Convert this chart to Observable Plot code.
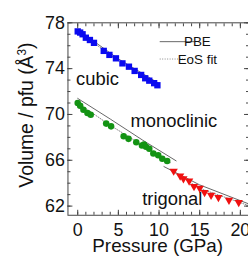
<!DOCTYPE html>
<html><head><meta charset="utf-8">
<script src="https://cdn.jsdelivr.net/npm/d3@7"></script>
<script src="https://cdn.jsdelivr.net/npm/@observablehq/plot@0.6"></script>
<style>
html,body{margin:0;padding:0;background:#fff;overflow:hidden;width:248px;height:259px}
#chart{position:relative;width:248px;height:259px;overflow:hidden}
</style></head><body><div id="chart"></div>
<script>
// Cubic phase (blue squares)
const cubicP = [0, 0.3, 0.6, 1.0, 1.5, 2.0, 3.2, 3.9, 4.7, 5.5, 6.3, 7.0, 7.8, 8.3, 8.8, 9.4, 9.8];
const cubicV = [77.25, 77.15, 77.0, 76.7, 76.5, 76.25, 75.55, 75.2, 74.9, 74.46, 74.17, 73.8, 73.45, 73.16, 72.95, 72.73, 72.55];
// Monoclinic phase (green circles)
const monoP = [0, 0.3, 0.7, 1.2, 1.6, 3.5, 4.1, 5.65, 6.25, 7.2, 7.9, 8.15, 8.4, 8.8, 9.3, 9.9, 10.4, 11.0];
const monoV = [71.0, 70.76, 70.41, 70.12, 69.98, 69.2, 68.96, 68.1, 67.87, 67.57, 67.29, 67.38, 67.18, 67.0, 66.6, 66.43, 66.14, 65.93];
// Trigonal phase (red down triangles)
const trigP = [11.8, 12.6, 13.0, 13.7, 14.3, 15.0, 15.6, 16.4, 17.3, 18.6, 19.8];
const trigV = [65.06, 64.63, 64.4, 64.19, 63.71, 63.56, 63.19, 62.95, 62.75, 62.52, 62.32];
// PBE curves
const cubicPbeP = [0, 5, 10], cubicPbeV = [77.4, 74.85, 72.7];
const monoPbeP = [0, 4, 8, 12.1], monoPbeV = [71.4, 69.6, 67.75, 65.95];
const trigPbeP = [10.6, 15, 21], trigPbeV = [65.45, 63.85, 62.2];
// EoS fits
const cubicFitP = [0, 5, 10], cubicFitV = [77.25, 74.7, 72.55];
const monoFitP = [0, 4, 8, 11.5], monoFitV = [71.0, 69.05, 67.3, 65.75];
const trigFitP = [11.5, 15, 21], trigFitV = [65.1, 63.55, 62.05];
// Phase labels
const phaseNames = ["cubic", "monoclinic", "trigonal"];
const phaseP = [-0.2, 6.5, 7.93];
const phaseV = [73.07, 69.46, 62.6];
// Ticks
const xMajor = [0, 5, 10, 15, 20];
const yMajor = [62, 66, 70, 74, 78];
const xMinor = d3.range(0, 21);
const yMinor = d3.range(62, 79);

const pts = (P, V) => P.map((p, i) => ({p, v: V[i]}));
const frameColor = "#444";
const font = "'Liberation Sans', Arial, sans-serif";

const marks = [
  Plot.line(pts(cubicPbeP, cubicPbeV), {x: "p", y: "v", stroke: "#666", strokeWidth: 1}),
  Plot.line(pts(monoPbeP, monoPbeV), {x: "p", y: "v", stroke: "#666", strokeWidth: 1}),
  Plot.line(pts(trigPbeP, trigPbeV), {x: "p", y: "v", stroke: "#666", strokeWidth: 1}),
  Plot.line(pts(cubicFitP, cubicFitV), {x: "p", y: "v", stroke: "#888", strokeWidth: 1, strokeDasharray: "1,1.5"}),
  Plot.line(pts(monoFitP, monoFitV), {x: "p", y: "v", stroke: "#888", strokeWidth: 1, strokeDasharray: "1,1.5"}),
  Plot.line(pts(trigFitP, trigFitV), {x: "p", y: "v", stroke: "#888", strokeWidth: 1, strokeDasharray: "1,1.5"}),
  Plot.dot(pts(cubicP, cubicV), {x: "p", y: "v", symbol: "square", r: 3.6, fill: "#0a0af0", stroke: "none"}),
  Plot.dot(pts(monoP, monoV), {x: "p", y: "v", symbol: "circle", r: 3.3, fill: "#139313", stroke: "none"}),
  Plot.dot(pts(trigP, trigV), {x: "p", y: "v", symbol: "triangle", r: 3.1, rotate: 180, fill: "#f01010", stroke: "none"}),
  Plot.text(phaseNames.map((t, i) => ({t, p: phaseP[i], v: phaseV[i]})), {x: "p", y: "v", text: "t", textAnchor: "start", fontSize: 18.5, fill: "#111"}),
  Plot.frame({stroke: frameColor}),
];
for (const a of ["bottom", "top"]) {
  marks.push(Plot.axisX({anchor: a, ticks: xMinor, tickSize: -3, tickFormat: () => "", label: null, stroke: frameColor}));
  marks.push(Plot.axisX({anchor: a, ticks: xMajor, tickSize: -5, tickFormat: () => "", label: null, stroke: frameColor}));
}
for (const a of ["left", "right"]) {
  marks.push(Plot.axisY({anchor: a, ticks: yMinor, tickSize: -3, tickFormat: () => "", label: null, stroke: frameColor}));
  marks.push(Plot.axisY({anchor: a, ticks: yMajor, tickSize: -5, tickFormat: () => "", label: null, stroke: frameColor}));
}
marks.push(Plot.axisX({anchor: "bottom", ticks: xMajor, tickSize: 0, tickPadding: 8.5, label: null, fill: "#111", fontSize: 18}));
marks.push(Plot.axisY({anchor: "left", ticks: yMajor, tickSize: 0, tickPadding: 3, label: null, fill: "#111", fontSize: 18}));

const plot = Plot.plot({
  width: 250, height: 259,
  marginLeft: 68, marginRight: 0, marginTop: 22.5, marginBottom: 42.5,
  x: {domain: [-1.2, 21]},
  y: {domain: [61.2, 78]},
  style: {fontFamily: font, fontSize: "18px", color: "#111", background: "white", overflow: "visible"},
  marks
});

const svg = d3.select(plot);
// Axis titles
svg.append("text").attr("x", 159).attr("y", 254).attr("text-anchor", "middle")
  .attr("font-size", 19).attr("fill", "#111").text("Pressure (GPa)");
const yl = svg.append("text").attr("transform", "translate(33,116) rotate(-90)")
  .attr("text-anchor", "middle").attr("font-size", 19.5).attr("fill", "#111");
yl.append("tspan").text("Volume / pfu (Å");
yl.append("tspan").attr("dy", -7).attr("font-size", 12).text("3");
yl.append("tspan").attr("dy", 7).text(")");
// Legend
const leg = svg.append("g").attr("font-size", 13.5).attr("fill", "#111");
leg.append("line").attr("x1", 161).attr("x2", 196).attr("y1", 42).attr("y2", 42).attr("stroke", "#666");
leg.append("text").attr("x", 199).attr("y", 42).attr("dy", "0.35em").text("PBE");
leg.append("line").attr("x1", 161).attr("x2", 196).attr("y1", 59.5).attr("y2", 59.5).attr("stroke", "#888").attr("stroke-dasharray", "1,1.5");
leg.append("text").attr("x", 199).attr("y", 59.5).attr("dy", "0.35em").text("EoS fit");

document.getElementById("chart").appendChild(plot);
</script></body></html>
